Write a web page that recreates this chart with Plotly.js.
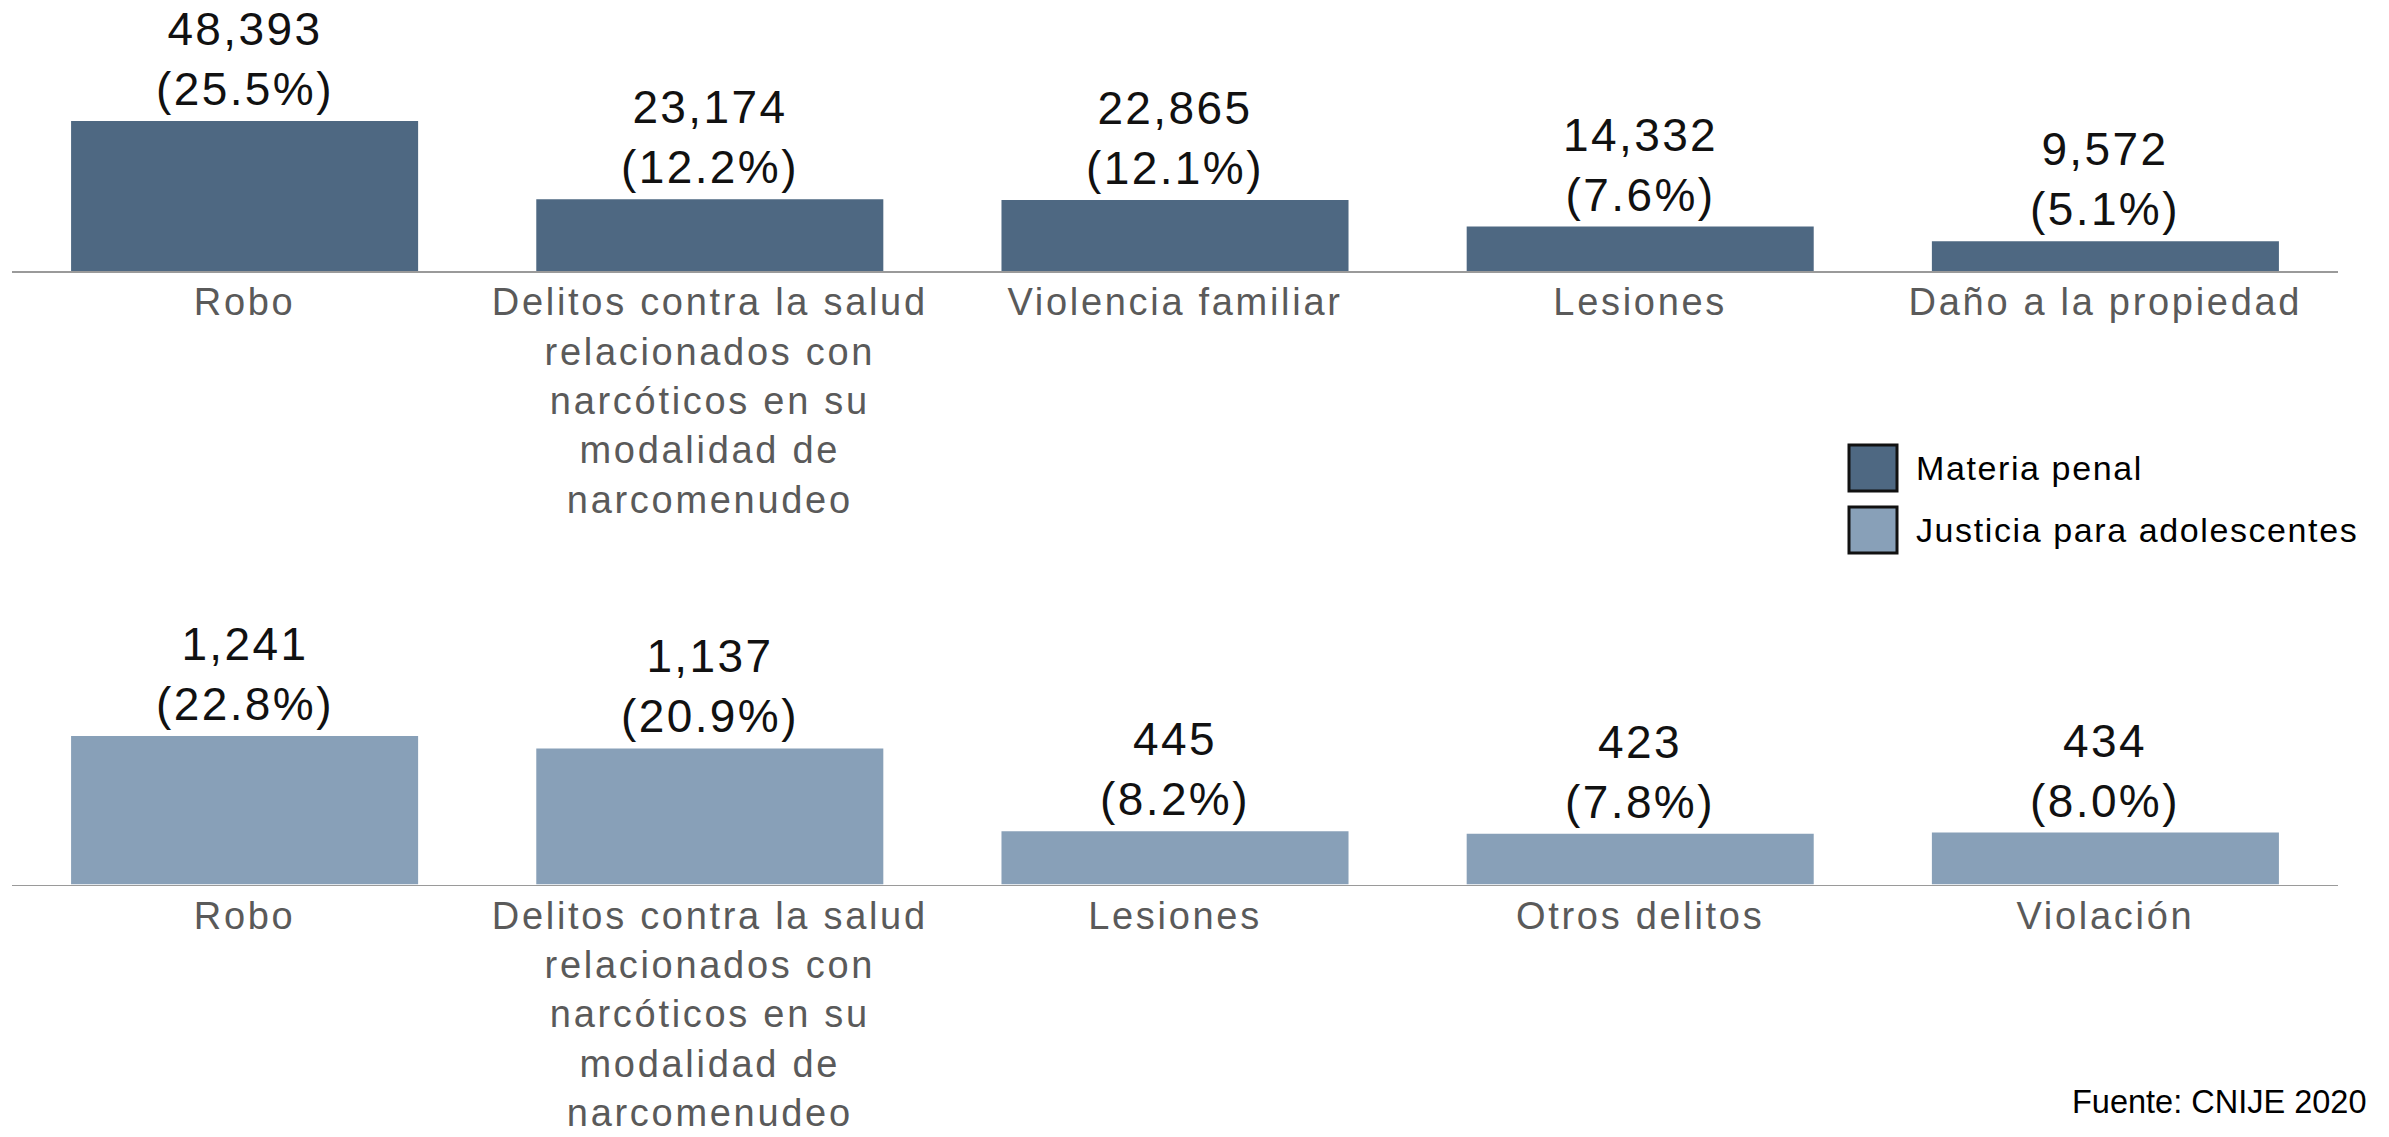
<!DOCTYPE html>
<html>
<head>
<meta charset="utf-8">
<script src="https://cdn.plot.ly/plotly-3.0.1.min.js"></script>
<style>
  html, body { margin: 0; padding: 0; background: #ffffff; }
  #chart { width: 2389px; height: 1137px; }
  .xtick text, .x2tick text { letter-spacing: 2.7px; }
  .annotation-text[style*="font-size: 46px"] { letter-spacing: 2.4px; }
  .annotation-text[style*="font-size: 34px"] { letter-spacing: 1.6px; }
</style>
</head>
<body>
<div id="chart"></div>
<script>
// ---- Data ----
const seriesNames = ["Materia penal", "Justicia para adolescentes"];

const penalCategories = [
  "Robo",
  "Delitos contra la salud<br>relacionados con<br>narcóticos en su<br>modalidad de<br>narcomenudeo",
  "Violencia familiar",
  "Lesiones",
  "Daño a la propiedad"
];
const penalValues = [48393, 23174, 22865, 14332, 9572];
const penalPercents = [25.5, 12.2, 12.1, 7.6, 5.1];

const adolCategories = [
  "Robo",
  "Delitos contra la salud<br>relacionados con<br>narcóticos en su<br>modalidad de<br>narcomenudeo",
  "Lesiones",
  "Otros delitos",
  "Violación"
];
const adolValues = [1241, 1137, 445, 423, 434];
const adolPercents = [22.8, 20.9, 8.2, 7.8, 8.0];

const sourceText = "Fuente: CNIJE 2020";

// ---- Styles ----
const colorPenal = "#4e6882";
const colorAdol = "#88a0b8";
const fontFamily = "Liberation Sans, Arial, sans-serif";

const W = 2389, H = 1137;
const fmt = v => v.toLocaleString("en-US");

const traces = [
  {
    type: "bar", x: penalCategories, y: penalValues,
    xaxis: "x", yaxis: "y", name: seriesNames[0],
    marker: { color: colorPenal, line: { width: 0 } },
    showlegend: false, hoverinfo: "skip"
  },
  {
    type: "bar", x: adolCategories, y: adolValues,
    xaxis: "x2", yaxis: "y2", name: seriesNames[1],
    marker: { color: colorAdol, line: { width: 0 } },
    showlegend: false, hoverinfo: "skip"
  }
];

const annotations = [];
penalCategories.forEach((c, i) => {
  annotations.push({
    xref: "x", yref: "y", x: c, y: penalValues[i],
    text: fmt(penalValues[i]) + "<br>(" + penalPercents[i].toFixed(1) + "%)",
    showarrow: false, yanchor: "bottom", xanchor: "center", yshift: 4,
    font: { family: fontFamily, size: 46, color: "#111111" }
  });
});
adolCategories.forEach((c, i) => {
  annotations.push({
    xref: "x2", yref: "y2", x: c, y: adolValues[i],
    text: fmt(adolValues[i]) + "<br>(" + adolPercents[i].toFixed(1) + "%)",
    showarrow: false, yanchor: "bottom", xanchor: "center", yshift: 4,
    font: { family: fontFamily, size: 46, color: "#111111" }
  });
});

// Legend (drawn manually to match large squares)
const legendY = [468, 530];
const legendColors = [colorPenal, colorAdol];
const shapes = [];
seriesNames.forEach((n, i) => {
  const cy = legendY[i];
  shapes.push({
    type: "rect", xref: "paper", yref: "paper",
    x0: 1849 / W, x1: 1897 / W,
    y0: 1 - (cy + 23) / H, y1: 1 - (cy - 23) / H,
    fillcolor: legendColors[i], line: { color: "#111111", width: 3 }
  });
  annotations.push({
    xref: "paper", yref: "paper", x: 1914 / W, y: 1 - cy / H,
    xanchor: "left", yanchor: "middle", showarrow: false,
    text: n, font: { family: fontFamily, size: 34, color: "#000000" }
  });
});

annotations.push({
  xref: "paper", yref: "paper", x: 2368 / W, y: 1 - 1102 / H,
  xanchor: "right", yanchor: "middle", showarrow: false,
  text: sourceText, font: { family: fontFamily, size: 32.5, color: "#000000" }
});

const xdom = [12 / W, 2338 / W];
const axisCommon = {
  domain: xdom, type: "category", range: [-0.5, 4.5],
  showgrid: false, zeroline: false, showline: true,
  linecolor: "#9a9a9a", linewidth: 1.5, ticks: "",
  tickfont: { family: fontFamily, size: 38, color: "#5a5a5a" },
  ticklabelstandoff: -3, fixedrange: true
};
const yCommon = {
  showgrid: false, zeroline: false, showline: false,
  showticklabels: false, ticks: "", fixedrange: true
};

const layout = {
  width: W, height: H,
  margin: { l: 0, r: 0, t: 0, b: 0, pad: 0 },
  paper_bgcolor: "#ffffff", plot_bgcolor: "rgba(0,0,0,0)",
  bargap: 0.254,
  showlegend: false,
  xaxis: Object.assign({}, axisCommon, { anchor: "y" }),
  xaxis2: Object.assign({}, axisCommon, { anchor: "y2" }),
  yaxis: Object.assign({}, yCommon, { domain: [1 - 271 / H, 1 - 116 / H], range: [0, 50000], anchor: "x" }),
  yaxis2: Object.assign({}, yCommon, { domain: [1 - 884.5 / H, 1 - 728.9 / H], range: [0, 1300], anchor: "x2" }),
  annotations: annotations,
  shapes: shapes,
  hovermode: false
};

Plotly.newPlot("chart", traces, layout, { staticPlot: true, displayModeBar: false });
</script>
</body>
</html>
